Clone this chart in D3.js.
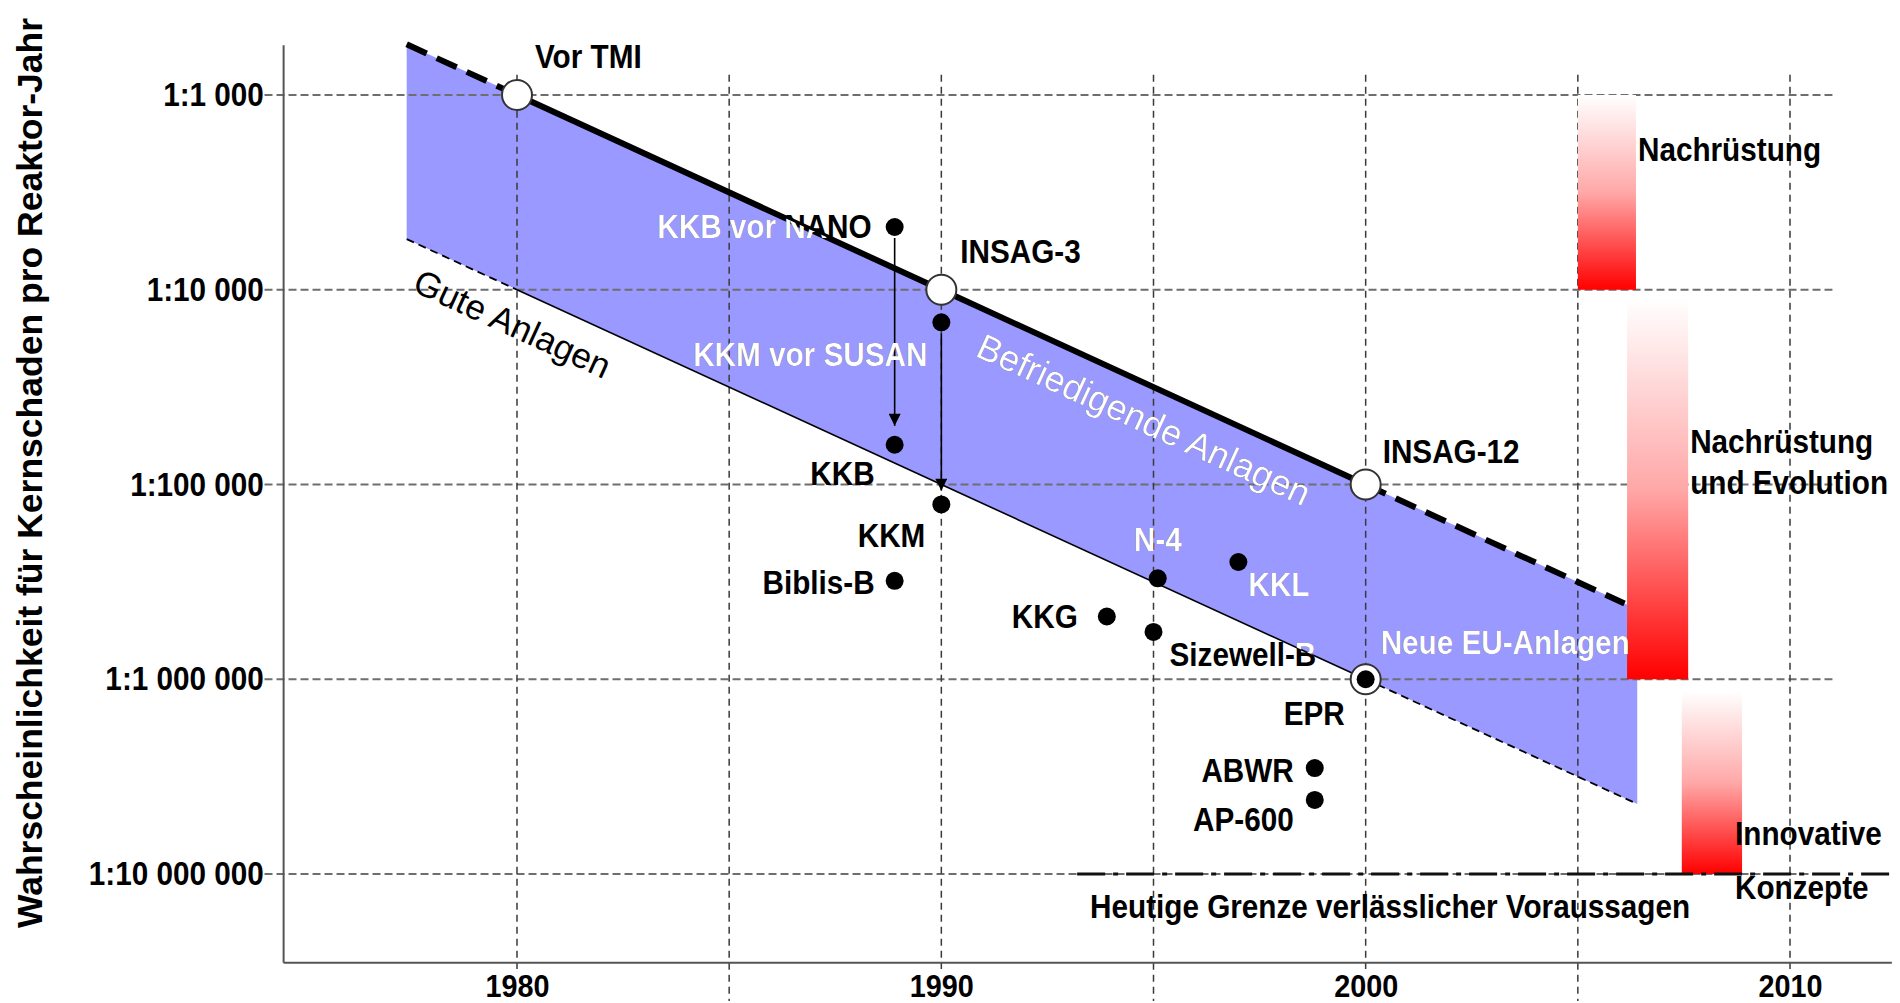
<!DOCTYPE html>
<html>
<head>
<meta charset="utf-8">
<script src="https://cdn.jsdelivr.net/npm/d3@7"></script>
<style>
  body { margin: 0; background: #fff; }
</style>
</head>
<body>
<div id="chart"></div>
<script>
// ---- data (year, probability per reactor-year) ----
const yTicks = [1e-3, 1e-4, 1e-5, 1e-6, 1e-7];
const yTickLabels = ["1:1 000", "1:10 000", "1:100 000", "1:1 000 000", "1:10 000 000"];
const gridYears = [1980, 1985, 1990, 1995, 2000, 2005, 2010];
const xTickYears = [1980, 1990, 2000, 2010];
const xExtent = [1974.5, 2012.4];
const yExtent = [1.8e-3, 3.5e-8];

// blue band between the two reference lines
const bandYears = [1977.4, 2006.4];
const bandHigh = [1.82e-3, 2.29e-6];
const bandLow = [1.82e-4, 2.29e-7];

// upper (satisfactory) and lower (good) reference lines
const upperDashLeft = [[1977.4, 1.82e-3], [1980, 1e-3]];
const upperSolid = [[1980, 1e-3], [1990, 1e-4], [2000, 1e-5]];
const upperDashRight = [[2000, 1e-5], [2006.1, 2.45e-6]];
const lowerDashLeft = [[1977.4, 1.82e-4], [1980, 1e-4]];
const lowerSolid = [[1980, 1e-4], [1990, 1e-5], [2000, 1e-6]];
const lowerDashRight = [[2000, 1e-6], [2006.4, 2.29e-7]];

// open circles on the upper line
const milestoneNames = ["Vor TMI", "INSAG-3", "INSAG-12"];
const milestoneYears = [1980, 1990, 2000];
const milestoneValues = [1e-3, 1e-4, 1e-5];

// plants (black dots)
const plantNames = ["KKB vor NANO", "KKM vor SUSAN", "KKB", "KKM", "Biblis-B", "N-4",
                    "KKL", "KKG", "Sizewell-B", "ABWR", "AP-600"];
const plantYears = [1988.9, 1990.0, 1988.9, 1990.0, 1988.9, 1995.1,
                    1997.0, 1993.9, 1995.0, 1998.8, 1998.8];
const plantValues = [2.1e-4, 6.8e-5, 1.6e-5, 7.9e-6, 3.2e-6, 3.3e-6,
                     4.0e-6, 2.1e-6, 1.75e-6, 3.5e-7, 2.4e-7];

const eprYear = 2000, eprValue = 1e-6;

// backfitting arrows
const arrowYears = [1988.9, 1990.0];
const arrowFrom = [2.1e-4, 6.8e-5];
const arrowTo = [2.0e-5, 9.3e-6];

// limit of reliable predictions
const limitYears = [1993.2, 2012.4];
const limitValue = 1e-7;

// red gradient bars
const barLabels = [["Nachrüstung"], ["Nachrüstung", "und Evolution"], ["Innovative", "Konzepte"]];
const barStart = [2005.0, 2006.16, 2007.45];
const barEnd = [2006.37, 2007.6, 2008.87];
const barTop = [1e-3, 9e-5, 8.7e-7];
const barBottom = [1e-4, 1e-6, 1e-7];

// ---- layout ----
const width = 1900, height = 1003;
const font = "'Liberation Sans', Arial, sans-serif";
const labelSize = 33;
const squeeze = 0.9;   // narrow look of the original lettering

// label offsets from their mark: [dx, dy, anchor]
const labelLayout = {
  "Vor TMI": [18, -27, "start"],
  "INSAG-3": [19, -27, "start"],
  "INSAG-12": [17, -22, "start"],
  "KKB vor NANO": [-23, 11, "end"],
  "KKM vor SUSAN": [-14, 44, "end"],
  "KKB": [-20, 40, "end"],
  "KKM": [-16, 43, "end"],
  "Biblis-B": [-20, 13, "end"],
  "N-4": [0, -27, "middle"],
  "KKL": [10, 34, "start"],
  "KKG": [-29, 12, "end"],
  "Sizewell-B": [16, 34, "start"],
  "ABWR": [-21, 14, "end"],
  "AP-600": [-21, 31, "end"],
  "EPR": [-21, 46, "end"]
};
const barLabelLayout = [[2, 66, 0], [2, 154, 41], [-7, 154, 54]];

const svg = d3.select("#chart").append("svg")
    .attr("width", width)
    .attr("height", height);

const x = d3.scaleLinear().domain([1980, 2010]).range([517, 1790]);
const y = d3.scaleLog().domain([1e-3, 1e-7]).range([95, 874]);

const defs = svg.append("defs");

const grad = defs.append("linearGradient")
    .attr("id", "barFill")
    .attr("x1", 0).attr("y1", 0).attr("x2", 0).attr("y2", 1);
grad.append("stop").attr("offset", "0%").attr("stop-color", "#ffffff");
grad.append("stop").attr("offset", "50%").attr("stop-color", "#ffa8a8");
grad.append("stop").attr("offset", "100%").attr("stop-color", "#ff0000");

defs.append("marker")
    .attr("id", "arrowHead")
    .attr("viewBox", "0 0 10 10")
    .attr("refX", 10).attr("refY", 5)
    .attr("markerWidth", 17).attr("markerHeight", 12)
    .attr("markerUnits", "userSpaceOnUse")
    .attr("orient", "auto")
  .append("path")
    .attr("d", "M0,0 L10,5 L0,10 Z")
    .attr("fill", "#000");

const band = d3.area()
    .x(d => x(d[0]))
    .y0(d => y(d[1]))
    .y1(d => y(d[2]));
const bandData = bandYears.map((yr, i) => [yr, bandLow[i], bandHigh[i]]);

defs.append("clipPath")
    .attr("id", "bandClip")
  .append("path")
    .attr("d", band(bandData));

const g = svg.append("g");

// band
g.append("path")
    .attr("d", band(bandData))
    .attr("fill", "#9999ff");

// grid
g.append("g")
  .selectAll("line")
  .data(yTicks)
  .join("line")
    .attr("x1", x(1974.05))
    .attr("x2", x(2011.0))
    .attr("y1", d => y(d))
    .attr("y2", d => y(d))
    .attr("stroke", "#6e6e6e")
    .attr("stroke-width", 2)
    .attr("stroke-dasharray", "8,4");

g.append("g")
  .selectAll("line")
  .data(gridYears)
  .join("line")
    .attr("x1", d => x(d))
    .attr("x2", d => x(d))
    .attr("y1", y(1.27e-3))
    .attr("y2", d => xTickYears.includes(d) ? 969 : 1001)
    .attr("stroke", "#3a3a3a")
    .attr("stroke-width", 1.5)
    .attr("stroke-dasharray", "7,5");

// axes
g.append("line")
    .attr("x1", x(xExtent[0])).attr("x2", x(xExtent[0]))
    .attr("y1", y(yExtent[0])).attr("y2", y(yExtent[1]))
    .attr("stroke", "#555").attr("stroke-width", 2);
g.append("line")
    .attr("x1", x(xExtent[0])).attr("x2", x(xExtent[1]))
    .attr("y1", y(yExtent[1])).attr("y2", y(yExtent[1]))
    .attr("stroke", "#555").attr("stroke-width", 2);

g.append("g")
    .attr("transform", `translate(${x(xExtent[0])},0)`)
    .call(d3.axisLeft(y).tickValues(yTicks).tickFormat((d, i) => yTickLabels[i]).tickSize(0).tickPadding(22))
    .call(g => g.select(".domain").remove())
  .selectAll("text")
    .attr("transform", `scale(${squeeze},1)`)
    .attr("font-family", font)
    .attr("font-weight", "bold")
    .attr("font-size", labelSize)
    .attr("fill", "#000");

g.append("g")
    .attr("transform", `translate(0,${y(yExtent[1])})`)
    .call(d3.axisBottom(x).tickValues(xTickYears).tickFormat(d3.format("d")).tickSize(0).tickPadding(12))
    .call(g => g.select(".domain").remove())
  .selectAll("text")
    .attr("transform", `scale(${squeeze},1)`)
    .attr("font-family", font)
    .attr("font-weight", "bold")
    .attr("font-size", 32)
    .attr("fill", "#000");

// red bars
g.append("g")
  .selectAll("rect")
  .data(barLabels)
  .join("rect")
    .attr("x", (d, i) => x(barStart[i]))
    .attr("width", (d, i) => x(barEnd[i]) - x(barStart[i]))
    .attr("y", (d, i) => y(barTop[i]))
    .attr("height", (d, i) => y(barBottom[i]) - y(barTop[i]))
    .attr("fill", "url(#barFill)");

// reference lines
const line = d3.line().x(d => x(d[0])).y(d => y(d[1]));

g.append("path").attr("d", line(upperSolid))
    .attr("fill", "none").attr("stroke", "#000").attr("stroke-width", 6);
[upperDashLeft, upperDashRight].forEach(seg => {
  g.append("path").attr("d", line(seg))
      .attr("fill", "none").attr("stroke", "#000").attr("stroke-width", 6)
      .attr("stroke-dasharray", "22,11");
});
g.append("path").attr("d", line(lowerSolid))
    .attr("fill", "none").attr("stroke", "#000").attr("stroke-width", 1.6);
[lowerDashLeft, lowerDashRight].forEach(seg => {
  g.append("path").attr("d", line(seg))
      .attr("fill", "none").attr("stroke", "#000").attr("stroke-width", 1.8)
      .attr("stroke-dasharray", "8,5");
});

// arrows
g.append("g")
  .selectAll("line")
  .data(arrowYears)
  .join("line")
    .attr("x1", d => x(d))
    .attr("x2", d => x(d))
    .attr("y1", (d, i) => y(arrowFrom[i]) + 11)
    .attr("y2", (d, i) => y(arrowTo[i]))
    .attr("stroke", "#000")
    .attr("stroke-width", 1.6)
    .attr("marker-end", "url(#arrowHead)");

// limit of reliable predictions
g.append("line")
    .attr("x1", x(limitYears[0])).attr("x2", x(limitYears[1]))
    .attr("y1", y(limitValue)).attr("y2", y(limitValue))
    .attr("stroke", "#111")
    .attr("stroke-width", 3)
    .attr("stroke-dasharray", "28,8,5,8");

// points
g.append("g")
  .selectAll("circle")
  .data(plantNames)
  .join("circle")
    .attr("cx", (d, i) => x(plantYears[i]))
    .attr("cy", (d, i) => y(plantValues[i]))
    .attr("r", 9)
    .attr("fill", "#000");

g.append("g")
  .selectAll("circle")
  .data(milestoneNames.concat(["EPR"]))
  .join("circle")
    .attr("cx", (d, i) => x(i < 3 ? milestoneYears[i] : eprYear))
    .attr("cy", (d, i) => y(i < 3 ? milestoneValues[i] : eprValue))
    .attr("r", 15)
    .attr("fill", "#fff")
    .attr("stroke", "#333")
    .attr("stroke-width", 2);

g.append("circle")
    .attr("cx", x(eprYear))
    .attr("cy", y(eprValue))
    .attr("r", 9)
    .attr("fill", "#000");

// labels
const labels = [];
const pushPointLabel = (name, yr, val) => {
  const l = labelLayout[name];
  labels.push({text: name, x: x(yr) + l[0], y: y(val) + l[1], anchor: l[2]});
};
milestoneNames.forEach((n, i) => pushPointLabel(n, milestoneYears[i], milestoneValues[i]));
plantNames.forEach((n, i) => pushPointLabel(n, plantYears[i], plantValues[i]));
pushPointLabel("EPR", eprYear, eprValue);

labels.push({text: "Neue EU-Anlagen", x: x(2000) + 15, y: y(1e-6) - 25, anchor: "start"});
labels.push({text: "Heutige Grenze verlässlicher Voraussagen",
             x: x(limitYears[0]) + 13, y: y(limitValue) + 44, anchor: "start"});

barLabels.forEach((lines, i) => {
  const l = barLabelLayout[i];
  lines.forEach((t, j) => {
    labels.push({text: t, x: x(barEnd[i]) + l[0], y: y(barTop[i]) + l[1] + j * l[2], anchor: "start"});
  });
});

const bandAngle = Math.atan2(y(bandLow[1]) - y(bandLow[0]), x(bandYears[1]) - x(bandYears[0])) * 180 / Math.PI;
labels.push({text: "Gute Anlagen", x: x(1977.5), y: y(9.9e-5), anchor: "start",
             angle: bandAngle, weight: "normal", size: 35, sx: 1});
labels.push({text: "Befriedigende Anlagen", x: x(1990.77), y: y(4.6e-5), anchor: "start",
             angle: bandAngle, weight: "normal", size: 36, sx: 1});

function addLabels(layer, fill) {
  layer.selectAll("text")
    .data(labels)
    .join("text")
      .attr("transform", d => `translate(${d.x},${d.y}) rotate(${d.angle || 0}) scale(${d.sx || squeeze},1)`)
      .attr("text-anchor", d => d.anchor)
      .attr("font-family", font)
      .attr("font-weight", d => d.weight || "bold")
      .attr("font-size", d => d.size || labelSize)
      .attr("fill", fill)
      .text(d => d.text);
}
addLabels(g.append("g"), "#000");
addLabels(g.append("g").attr("clip-path", "url(#bandClip)"), "#fff");

// y axis title
g.append("text")
    .attr("transform", `translate(42, 473) rotate(-90)`)
    .attr("text-anchor", "middle")
    .attr("font-family", font)
    .attr("font-weight", "bold")
    .attr("font-size", 35.5)
    .attr("fill", "#000")
    .text("Wahrscheinlichkeit für Kernschaden pro Reaktor-Jahr");
</script>
</body>
</html>
